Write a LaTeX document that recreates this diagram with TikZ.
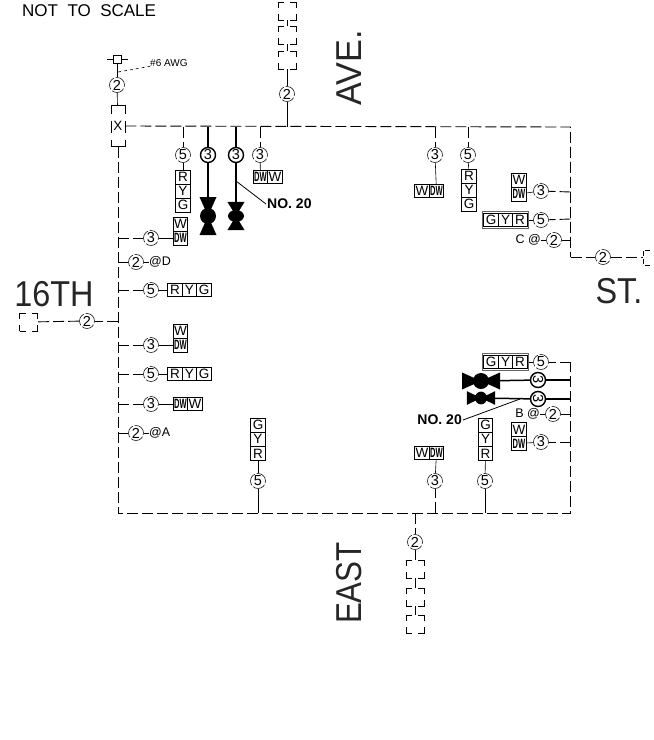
\documentclass[tikz,border=0pt]{standalone}
\usepackage{fontspec}
\setmainfont{Liberation Sans}
\usetikzlibrary{calc}
\newcommand{\sqz}[1]{\scalebox{.56}[1]{\bfseries #1}}
\newcommand{\nrw}[1]{\scalebox{.9}[1]{#1}}
\tikzset{
  feeder/.style={line width=.9pt,dash pattern=on 11pt off 4pt},
  wire/.style={line width=.6pt},
  heavy/.style={line width=1.5pt},
  cond/.style={draw,circle,line width=.55pt,minimum size=15pt,inner sep=0pt,font=\fontsize{14.5}{14.5}\selectfont,dash pattern=on 13pt off 2pt},
  condheavy/.style={draw,circle,line width=1.4pt,minimum size=15pt,inner sep=0pt,font=\fontsize{14.5}{14.5}\selectfont},
  head/.style={draw,line width=.6pt,minimum width=14.5pt,minimum height=14pt,inner sep=0pt,font=\fontsize{13.5}{13.5}\selectfont},
  pole/.style={draw,line width=.7pt,dash pattern=on 12pt off 6pt,dash phase=6pt,minimum width=18pt,minimum height=18pt,inner sep=0pt},
  street/.style={font=\fontsize{36}{36}\selectfont,text=black!85,inner sep=0pt},
  tag/.style={font=\fontsize{12.5}{12.5}\selectfont,inner sep=0pt},
  note/.style={font=\bfseries\fontsize{14}{14}\selectfont,inner sep=1pt},
  valve/.pic={\fill(-8.5,-19)--(8.5,-19)--(0,0)--(8.5,19)--(-8.5,19)--(0,0)--cycle;\fill(0,0)circle(8);}
}
\begin{document}
\begin{tikzpicture}[x=1pt,y=-1pt]
  \useasboundingbox(0,0)rectangle(654,740);
  % street names
  \node[font=\fontsize{17}{17}\selectfont,inner sep=0pt,anchor=west](scale)at(22,11){NOT\ \ TO\ \ SCALE};
  \node[street,rotate=90](ave)at(349,68){\scalebox{.95}[1]{AVE.}};
  \node[street](sixteen)at(54,294){\nrw{16TH}};
  \node[street](st)at(619,291){\nrw{ST.}};
  \node[street,rotate=90](east)at(349,583){\scalebox{.87}[1]{EAST}};
  % loop
  \node[draw,line width=.8pt,dash pattern=on 21pt off 7pt on 12pt off 7pt on 30pt off 7pt on 12pt off 7pt on 7pt,minimum width=14pt,minimum height=41pt,inner sep=0pt,font=\fontsize{13.5}{13.5}\selectfont](xbox)at(118,126){X};
  \coordinate(loopNE)at(570.5,127);
  \coordinate(loopE)at(570.5,257);
  \coordinate(loopSE)at(570.5,513);
  \coordinate(loopSEtop)at(570.5,362);
  \coordinate(loopSW)at(118,513);
  \draw[feeder](xbox.east)--(loopNE)--(loopE);
  \draw[feeder](xbox.south)--(loopSW)--(loopSE)--(loopSEtop);
  % service at the top left
  \node[draw,line width=.7pt,minimum size=8pt,inner sep=0pt](gnd)at(117,59){};
  \coordinate(gndL)at(107,59);
  \coordinate(gndR)at(128,59);
  \node[cond](c2nw)at(117,85){2};
  \node[inner sep=0pt,anchor=west,font=\fontsize{10}{10}\selectfont](awg)at(150,63){\#6\ AWG};
  \coordinate(awgT)at(118,72);
  \draw[wire](gndL)--(gnd)--(gndR);
  \draw[wire](gnd)--(c2nw);
  \draw[wire](c2nw)--(xbox);
  \draw[wire,dashed](awgT)--(awg);
  % poles at the top
  \node[pole](poleNa)at(287,11){};
  \node[pole](poleNb)at(287,35){};
  \node[pole](poleNc)at(287,60){};
  \node[cond](c2n)at(287,94){2};
  \coordinate(tN)at(287,127);
  \draw[wire](poleNa)--(poleNb);
  \draw[wire](poleNb)--(poleNc);
  \draw[wire](poleNc)--(c2n);
  \draw[wire](c2n)--(tN);
  % top side
  \coordinate(t5a)at(183,127);
  \node[cond](c5a)at(183,155){5};
  \node[head](a1)at(183,177){R};
  \node[head](a2)at(183,191){Y};
  \node[head](a3)at(183,205){G};
  \draw[feeder](t5a)--(c5a);
  \draw[wire](c5a)--(a1);
  \coordinate(t3a)at(208,127);
  \node[condheavy](c3a)at(208,155){3};
  \coordinate(va)at(208,216);
  \pic at(va){valve};
  \draw[heavy](t3a)--(c3a);
  \draw[heavy](c3a)--(va);
  \coordinate(t3b)at(236,127);
  \node[condheavy](c3b)at(236,155){3};
  \coordinate(vb)at(236,216);
  \pic[yscale=.74]at(vb){valve};
  \draw[heavy](t3b)--(c3b);
  \draw[heavy](c3b)--(vb);
  \node[note,anchor=west](noa)at(266,204){NO.\ 20};
  \coordinate(noaT)at(236,181);
  \draw[line width=.8pt](noaT)--(noa.west);
  \coordinate(t3c)at(260,127);
  \node[cond](c3c)at(260,155){3};
  \node[head,minimum height=13pt](b1)at(260.5,177){\sqz{DW}};
  \node[head,minimum height=13pt](b2)at(275,177){W};
  \draw[feeder](t3c)--(c3c);
  \draw[wire](c3c)--(b1);
  \coordinate(t3d)at(435,127);
  \node[cond](c3d)at(435,155){3};
  \node[head,minimum height=13pt](d1)at(422,191){W};
  \node[head,minimum height=13pt](d2)at(436.5,191){\sqz{DW}};
  \draw[feeder](t3d)--(c3d);
  \draw[wire](c3d)--(d2);
  \coordinate(t5e)at(468,127);
  \node[cond](c5e)at(468,155){5};
  \node[head](e1)at(469,176){R};
  \node[head](e2)at(469,190){Y};
  \node[head](e3)at(469,204){G};
  \draw[feeder](t5e)--(c5e);
  \draw[wire](c5e)--(e1);
  % left side
  \coordinate(t3f)at(118,238);
  \node[cond](c3f)at(151,238){3};
  \node[head](f1)at(180.5,224){W};
  \node[head](f2)at(180.5,238){\sqz{DW}};
  \draw[feeder](t3f)--(c3f);
  \draw[wire](c3f)--(f2);
  \coordinate(t2d)at(118,262);
  \node[cond](c2d)at(136,262){2};
  \node[tag,anchor=west](tagd)at(149,262){@D};
  \draw[wire](t2d)--(c2d);
  \draw[wire](c2d)--(tagd);
  \coordinate(t5g)at(118,290);
  \node[cond](c5g)at(151,290){5};
  \node[head,minimum height=13pt](g1)at(175,290){R};
  \node[head,minimum height=13pt](g2)at(189.5,290){Y};
  \node[head,minimum height=13pt](g3)at(204,290){G};
  \draw[feeder](t5g)--(c5g);
  \draw[wire](c5g)--(g1);
  \coordinate(tW)at(118,321);
  \node[cond](c2w)at(87,321){2};
  \node[pole](poleW)at(28.5,322){};
  \draw[feeder](tW)--(c2w);
  \draw[feeder](c2w)--(poleW);
  \coordinate(t3h)at(118,345);
  \node[cond](c3h)at(151,345){3};
  \node[head](h1)at(180.5,331){W};
  \node[head](h2)at(180.5,345){\sqz{DW}};
  \draw[feeder](t3h)--(c3h);
  \draw[wire](c3h)--(h2);
  \coordinate(t5i)at(118,374);
  \node[cond](c5i)at(151,374){5};
  \node[head,minimum height=13pt](i1)at(175,374){R};
  \node[head,minimum height=13pt](i2)at(189.5,374){Y};
  \node[head,minimum height=13pt](i3)at(204,374){G};
  \draw[feeder](t5i)--(c5i);
  \draw[wire](c5i)--(i1);
  \coordinate(t3j)at(118,404);
  \node[cond](c3j)at(151,404){3};
  \node[head,minimum height=13pt](j1)at(180.5,404){\sqz{DW}};
  \node[head,minimum height=13pt](j2)at(195,404){W};
  \draw[feeder](t3j)--(c3j);
  \draw[wire](c3j)--(j1);
  \coordinate(t2a)at(118,433);
  \node[cond](c2a)at(136,433){2};
  \node[tag,anchor=west](taga)at(149,433){@A};
  \draw[wire](t2a)--(c2a);
  \draw[wire](c2a)--(taga);
  % bottom side
  \coordinate(t5k)at(258,513);
  \node[cond](c5k)at(258,481){5};
  \node[head](k1)at(258,425){G};
  \node[head](k2)at(258,439){Y};
  \node[head](k3)at(258,453.5){R};
  \draw[wire](t5k)--(c5k);
  \draw[wire](c5k)--(k3);
  \coordinate(t3l)at(435,513);
  \node[cond](c3l)at(435,481){3};
  \node[head,minimum height=13pt](l1)at(422,453){W};
  \node[head,minimum height=13pt](l2)at(436.5,453){\sqz{DW}};
  \draw[feeder](t3l)--(c3l);
  \draw[wire](c3l)--(l2);
  \coordinate(t5m)at(485,513);
  \node[cond](c5m)at(485,481){5};
  \node[head](m1)at(485.5,425){G};
  \node[head](m2)at(485.5,439){Y};
  \node[head](m3)at(485.5,453.5){R};
  \draw[wire](t5m)--(c5m);
  \draw[wire](c5m)--(m3);
  \coordinate(tS)at(415,513);
  \node[cond](c2s)at(415,542){2};
  \node[pole](poleSa)at(415,569){};
  \node[pole](poleSb)at(415,597){};
  \node[pole](poleSc)at(415,624){};
  \draw[feeder](tS)--(c2s);
  \draw[wire](c2s)--(poleSa);
  \draw[wire](poleSa)--(poleSb);
  \draw[wire](poleSb)--(poleSc);
  % right side
  \coordinate(t3n)at(570.5,192);
  \node[cond](c3n)at(541,191){3};
  \node[head](n1)at(519,180){W};
  \node[head](n2)at(519,194){\sqz{DW}};
  \draw[feeder](t3n)--(c3n);
  \draw[wire](c3n)--(n2);
  \coordinate(t5o)at(570.5,219);
  \node[cond](c5o)at(541,220){5};
  \node[draw=black!60,line width=1pt,minimum width=46pt,minimum height=17pt,inner sep=0pt](oo)at(505.5,220){};
  \node[head,minimum height=13pt](o1)at(491,220){G};
  \node[head,minimum height=13pt](o2)at(505.5,220){Y};
  \node[head,minimum height=13pt](o3)at(520,220){R};
  \draw[feeder](t5o)--(c5o);
  \draw[wire](c5o)--(oo);
  \coordinate(t2c)at(570.5,240);
  \node[cond](c2c)at(554,240){2};
  \node[tag,anchor=east](tagc)at(541,240){C\ @};
  \draw[wire](t2c)--(c2c);
  \draw[wire](c2c)--(tagc);
  \node[cond](c2e)at(603,257){2};
  \coordinate(poleEa)at(650,250);
  \coordinate(poleEb)at(643,250);
  \coordinate(poleEc)at(643,265);
  \coordinate(poleEd)at(650,265);
  \coordinate(poleEm)at(643,257);
  \draw[feeder](loopE)--(c2e);
  \draw[feeder](c2e)--(poleEm);
  \draw[wire,dash pattern=on 5pt off 3pt](poleEa)--(poleEb)--(poleEc)--(poleEd);
  \coordinate(t5p)at(570.5,362);
  \node[cond](c5p)at(541,362){5};
  \node[draw=black!60,line width=1pt,minimum width=46pt,minimum height=17pt,inner sep=0pt](pp)at(505.5,362){};
  \node[head,minimum height=13pt](p1)at(491,362){G};
  \node[head,minimum height=13pt](p2)at(505.5,362){Y};
  \node[head,minimum height=13pt](p3)at(520,362){R};
  \draw[feeder](t5p)--(c5p);
  \draw[wire](c5p)--(pp);
  \coordinate(t3q)at(570.5,380);
  \node[condheavy,rotate=-90](c3q)at(538,380){3};
  \coordinate(vq)at(481,381);
  \pic[rotate=90]at(vq){valve};
  \draw[heavy](t3q)--(c3q);
  \draw[heavy](c3q)--(vq);
  \coordinate(t3r)at(570.5,399);
  \node[condheavy,rotate=-90](c3r)at(538,399){3};
  \coordinate(vr)at(481,398);
  \pic[rotate=90,yscale=.74,xscale=.8]at(vr){valve};
  \draw[heavy](t3r)--(c3r);
  \draw[heavy](c3r)--(vr);
  \node[note,anchor=east](nob)at(463,420){NO.\ 20};
  \coordinate(nobT)at(520,399);
  \draw[line width=.8pt](nobT)--(nob.east);
  \coordinate(t2b)at(570.5,414);
  \node[cond](c2b)at(553,414){2};
  \node[tag,anchor=east](tagb)at(540,414){B\ @};
  \draw[wire](t2b)--(c2b);
  \draw[wire](c2b)--(tagb);
  \coordinate(t3s)at(570.5,442);
  \node[cond](c3s)at(541,442){3};
  \node[head](s1)at(519,429.5){W};
  \node[head](s2)at(519,443.5){\sqz{DW}};
  \draw[feeder](t3s)--(c3s);
  \draw[wire](c3s)--(s2);
\end{tikzpicture}
\end{document}
